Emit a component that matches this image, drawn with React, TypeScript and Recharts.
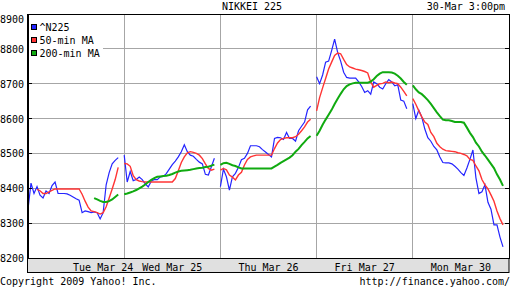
import { CartesianGrid, Line, LineChart, ReferenceArea, ReferenceLine, XAxis, YAxis } from "recharts";

// intraday bars (~11 min each), 31 per session; slot 31 of every day stays empty as the overnight gap
const SLOTS_PER_DAY = 32;

const dayLabels = ["Tue Mar 24", "Wed Mar 25", "Thu Mar 26", "Fri Mar 27", "Mon Mar 30"];
const labelSlots = [25, 48, 80, 112, 144];
const dayBreaks = [32, 64, 96, 128];
const priceTicks = [8200, 8300, 8400, 8500, 8600, 8700, 8800, 8900];

const n225 = [
  [8340, 8415, 8385, 8405, 8380, 8372, 8392, 8385, 8408, 8418, 8385, 8385, 8385, 8384, 8380, 8375, 8370, 8366, 8330, 8335, 8333, 8330, 8332, 8330, 8312, 8330, 8410, 8445, 8470, 8480, 8488],
  [8495, 8418, 8448, 8422, 8425, 8432, 8425, 8413, 8404, 8420, 8425, 8425, 8433, 8434, 8442, 8455, 8468, 8478, 8490, 8505, 8525, 8505, 8495, 8492, 8483, 8475, 8470, 8440, 8438, 8462, 8486],
  [8405, 8455, 8433, 8395, 8433, 8443, 8460, 8482, 8486, 8500, 8522, 8522, 8522, 8519, 8511, 8504, 8497, 8490, 8543, 8546, 8545, 8540, 8560, 8543, 8543, 8535, 8565, 8578, 8590, 8625, 8636],
  [8720, 8700, 8725, 8762, 8765, 8795, 8828, 8790, 8765, 8733, 8718, 8716, 8716, 8716, 8705, 8692, 8675, 8680, 8670, 8705, 8700, 8690, 8685, 8700, 8712, 8705, 8694, 8697, 8653, 8650, 8628],
  [8643, 8600, 8624, 8604, 8570, 8545, 8535, 8520, 8510, 8490, 8474, 8473, 8473, 8470, 8463, 8455, 8445, 8437, 8458, 8483, 8510, 8430, 8385, 8390, 8410, 8360, 8340, 8295, 8295, 8260, 8232],
];

const ma50 = [
  [null, null, null, 8397, 8393, 8385, 8385, 8390, 8394, 8398, 8398, 8398, 8398, 8398, 8398, 8398, 8398, 8398, 8383, 8363, 8346, 8335, 8333, 8330, 8326, 8330, 8347, 8372, 8398, 8425, 8460],
  [8471, 8470, 8463, 8436, 8425, 8421, 8419, 8418, 8418, 8418, 8418, 8418, 8418, 8418, 8418, 8418, 8418, 8428, 8450, 8474, 8490, 8502, 8505, 8503, 8500, 8495, 8485, 8470, 8457, 8452, 8455],
  [8452, 8457, 8453, 8438, 8432, 8424, 8438, 8446, 8467, 8483, 8490, 8493, 8495, 8495, 8495, 8495, 8495, 8495, 8514, 8530, 8540, 8543, 8545, 8545, 8545, 8548, 8555, 8565, 8576, 8590, 8598],
  [8622, 8660, 8688, 8715, 8742, 8762, 8781, 8788, 8786, 8770, 8755, 8748, 8745, 8742, 8740, 8738, 8735, 8731, 8705, 8690, 8695, 8700, 8701, 8705, 8703, 8705, 8702, 8700, 8690, 8678, 8665],
  [8657, 8641, 8622, 8605, 8590, 8583, 8560, 8548, 8529, 8519, 8512, 8508, 8507, 8506, 8505, 8502, 8500, 8497, 8493, 8483, 8480, 8464, 8450, 8425, 8410, 8398, 8381, 8363, 8335, 8313, 8295],
];

const ma200 = [
  [null, null, null, null, null, null, null, null, null, null, null, null, null, null, null, null, null, null, null, null, null, null, 8372, 8368, 8364, 8361, 8361, 8363, 8368, 8375, 8382],
  [8383, 8385, 8388, 8391, 8395, 8400, 8405, 8411, 8418, 8424, 8429, 8433, 8434, 8435, 8436, 8438, 8441, 8445, 8448, 8450, 8451, 8452, 8453, 8455, 8457, 8458, 8459, 8461, 8462, 8465, 8468],
  [8467, 8472, 8473, 8470, 8466, 8464, 8460, 8457, 8457, 8457, 8457, 8457, 8457, 8457, 8457, 8457, 8457, 8457, 8462, 8467, 8473, 8478, 8483, 8488, 8495, 8505, 8513, 8524, 8533, 8543, 8550],
  [8551, 8565, 8582, 8597, 8611, 8625, 8642, 8657, 8671, 8684, 8693, 8698, 8701, 8703, 8703, 8703, 8703, 8703, 8706, 8713, 8722, 8729, 8733, 8733, 8733, 8732, 8729, 8723, 8715, 8705, 8697],
  [8695, 8684, 8675, 8670, 8662, 8653, 8642, 8630, 8618, 8607, 8597, 8595, 8595, 8593, 8590, 8590, 8590, 8588, 8574, 8559, 8547, 8531, 8520, 8505, 8494, 8482, 8470, 8458, 8440, 8425, 8407],
];

const series = [
  { key: "n225", name: "^N225", color: "#2424ff", width: 1.2 },
  { key: "ma50", name: "50-min MA", color: "#ff3434", width: 1.4 },
  { key: "ma200", name: "200-min MA", color: "#10aa10", width: 2 },
];

const rows: Record<string, number | null>[] = [];
dayLabels.forEach((_, d) => {
  n225[d].forEach((v, i) => {
    rows.push({ t: d * SLOTS_PER_DAY + i, n225: v, ma50: ma50[d][i], ma200: ma200[d][i] });
  });
  rows.push({ t: d * SLOTS_PER_DAY + 31, n225: null, ma50: null, ma200: null });
});

const mono = "'DejaVu Sans Mono', monospace";

function PriceTick({ y, payload }: any) {
  const v = payload.value;
  const inner = v > 8200 && v < 8900;
  return (
    <g>
      <text x={24} y={v === 8900 ? y + 9 : y + 4} textAnchor="end" fontFamily={mono} fontSize={10} fill="#000">
        {v}
      </text>
      {inner && <line x1={28} x2={32} y1={y} y2={y} stroke="#000" />}
      {inner && <line x1={505} x2={509} y1={y} y2={y} stroke="#000" />}
    </g>
  );
}

function DayTick({ x }: any) {
  return (
    <g>
      <line x1={x} x2={x} y1={14} y2={19} stroke="#000" />
      <line x1={x} x2={x} y1={253} y2={258} stroke="#000" />
    </g>
  );
}

function DayLabel({ x, payload }: any) {
  const idx = labelSlots.indexOf(payload.value);
  return (
    <text x={x} y={270.5} textAnchor="middle" fontFamily={mono} fontSize={10} fill="#000">
      {dayLabels[idx]}
    </text>
  );
}

export default function App() {
  return (
    <div style={{ position: "absolute", left: 0, top: 0, width: 512, height: 288, background: "#fff" }}>
      <style>{".chart-wrap svg line, .chart-wrap svg rect, .chart-wrap .recharts-reference-area path { shape-rendering: crispEdges; }"}</style>
      <svg width={512} height={288} style={{ position: "absolute", left: 0, top: 0 }}>
        <rect x={27.5} y={258.5} width={481.5} height={14} fill="#e0e0e0" stroke="#000" />
        <text x={252} y={10} textAnchor="middle" fontFamily={mono} fontSize={10} fill="#000">NIKKEI 225</text>
        <text x={505} y={10} textAnchor="end" fontFamily={mono} fontSize={10} fill="#000">30-Mar 3:00pm</text>
        <text x={0} y={285} fontFamily={mono} fontSize={10} fill="#000">Copyright 2009 Yahoo! Inc.</text>
        <text x={510} y={285} textAnchor="end" fontFamily={mono} fontSize={10} fill="#000">http://finance.yahoo.com/</text>
      </svg>

      <div className="chart-wrap" style={{ position: "absolute", left: 0, top: 0 }}>
        <LineChart width={512} height={288} data={rows} margin={{ top: 14, right: 3, bottom: 0, left: 0 }}>
          <CartesianGrid xAxisId="grid" stroke="#a6a6a6" strokeWidth={1} />
          <XAxis
            xAxisId="grid"
            dataKey="t"
            type="number"
            domain={[0, 160]}
            ticks={dayBreaks}
            height={0}
            axisLine={false}
            tickLine={false}
            tick={<DayTick />}
            interval={0}
          />
          <XAxis
            xAxisId="labels"
            dataKey="t"
            type="number"
            domain={[0, 160]}
            ticks={labelSlots}
            height={30}
            axisLine={false}
            tickLine={false}
            tick={<DayLabel />}
            interval={0}
          />
          <YAxis
            domain={[8200, 8900]}
            ticks={priceTicks}
            width={28}
            axisLine={false}
            tickLine={false}
            tick={<PriceTick />}
            interval={0}
          />
          {series.map((s) => (
            <Line
              key={s.key}
              xAxisId="grid"
              dataKey={s.key}
              type="linear"
              stroke={s.color}
              strokeWidth={s.width}
              dot={false}
              connectNulls={false}
              isAnimationActive={false}
            />
          ))}
          <ReferenceArea xAxisId="grid" x1={0} x2={160} y1={8200} y2={8900} fill="none" stroke="#000" strokeWidth={1} />
          <ReferenceLine xAxisId="grid" x={0} stroke="#000" strokeWidth={2} />
        </LineChart>
      </div>

      <svg width={512} height={288} style={{ position: "absolute", left: 0, top: 0, pointerEvents: "none" }}>
        <rect x={29} y={16} width={74} height={44} fill="#fff" />
        {series.map((s, i) => (
          <g key={s.key}>
            <rect x={31.5} y={24.5 + i * 13} width={5} height={5} fill={s.color} stroke="#000" />
            <text x={39.5} y={31 + i * 13} fontFamily={mono} fontSize={10} fill="#000">
              {s.name}
            </text>
          </g>
        ))}
      </svg>
    </div>
  );
}
